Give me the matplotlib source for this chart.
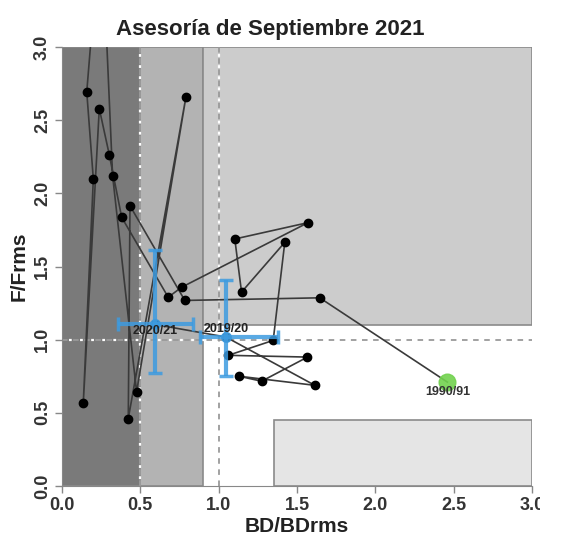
import matplotlib
matplotlib.use("Agg")
import matplotlib.pyplot as plt
from matplotlib.patches import Rectangle

plt.rcParams['font.family'] = ['Liberation Sans', 'DejaVu Sans']
plt.rcParams['lines.scale_dashes'] = False

# trajectory, first point = 1990/91, last two = 2019/20 and 2020/21
bdRatio = [2.46, 1.645, 0.784, 0.434, 0.423, 0.791, 0.476, 0.323, 0.25, 0.158,
           0.20, 0.136, 0.238, 0.302, 0.381, 0.678, 0.763, 1.571, 1.103, 1.146,
           1.422, 1.348, 1.061, 1.567, 1.274, 1.131, 1.614, 1.046, 0.593]
fRatio = [0.71, 1.286, 1.268, 1.915, 0.461, 2.658, 0.643, 2.12, 3.9, 2.693,
          2.097, 0.57, 2.579, 2.263, 1.836, 1.29, 1.358, 1.80, 1.688, 1.325,
          1.665, 0.995, 0.893, 0.881, 0.716, 0.75, 0.688, 1.018, 1.104]

# status estimates with intervals
statusLabels = ["2019/20", "2020/21"]
statusBD = [1.046, 0.593]
statusF = [1.018, 1.104]
statusBDlow, statusBDhigh = [0.88, 0.357], [1.378, 0.835]
statusFlow, statusFhigh = [0.75, 0.77], [1.41, 1.61]
firstLabel = "1990/91"

# reference zones (x0, x1, y0, y1, colour)
zones = [(0.0, 0.5, 0.0, 3.0, "#7a7a7a"),
         (0.5, 0.9, 0.0, 3.0, "#b3b3b3"),
         (0.9, 3.0, 1.1, 3.0, "#cccccc"),
         (1.35, 3.0, 0.0, 0.45, "#e5e5e5")]

ticks = [0.0, 0.5, 1.0, 1.5, 2.0, 2.5, 3.0]

fig = plt.figure(figsize=(5.68, 5.37), dpi=100)
ax = fig.add_axes([62/568, 51/537, 470/568, 439/537])

for x0, x1, y0, y1, col in zones:
    ax.add_patch(Rectangle((x0, y0), x1 - x0, y1 - y0, facecolor=col,
                           edgecolor="#8a8a8a", lw=1.2, zorder=1))

# reference lines: grey dashes with white dots in the gaps
for xv in [0.5, 1.0]:
    ax.axvline(xv, color="#9a9a9a", ls=(0, (4, 4)), lw=1.3, zorder=2)
    ax.axvline(xv, color="white", ls=(3, (2, 6)), lw=1.6, zorder=2)
ax.axhline(1.0, color="#9a9a9a", ls=(0, (4, 4)), lw=1.3, zorder=2)
ax.axhline(1.0, color="white", ls=(3, (2, 6)), lw=1.6, zorder=2)

ax.plot(bdRatio, fRatio, "-", color="#3a3a3a", lw=1.2, zorder=3)
ax.plot(bdRatio[1:], fRatio[1:], "o", color="black", ms=6, zorder=4)
ax.plot(bdRatio[0], fRatio[0], "o", color="#72d24f", ms=12, alpha=0.9, zorder=5)
ax.annotate(firstLabel, (bdRatio[0], fRatio[0]), xytext=(0, -7),
            textcoords="offset points", ha="center", va="center",
            fontsize=9, fontweight="bold", color="#333333", zorder=8)

for i in range(len(statusLabels)):
    xb, yb = statusBD[i], statusF[i]
    ax.errorbar(xb, yb,
                xerr=[[xb - statusBDlow[i]], [statusBDhigh[i] - xb]],
                yerr=[[yb - statusFlow[i]], [statusFhigh[i] - yb]],
                fmt="o", color="#3d9be0", ms=7, lw=3, capsize=5, capthick=2.5,
                alpha=0.85, zorder=6)
ax.annotate(statusLabels[0], (statusBD[0], statusF[0]), xytext=(0, 6),
            textcoords="offset points", ha="center", va="center",
            fontsize=9, fontweight="bold", color="#222222", zorder=8)
ax.annotate(statusLabels[1], (statusBD[1], statusF[1]), xytext=(0, -5),
            textcoords="offset points", ha="center", va="center",
            fontsize=9, fontweight="bold", color="#222222", zorder=8)

ax.set_xlim(0, 3)
ax.set_ylim(0, 3)
ax.set_xticks(ticks)
ax.set_yticks(ticks)
ax.set_xticklabels(["%.1f" % t for t in ticks])
ax.set_yticklabels(["%.1f" % t for t in ticks], rotation=90, va="center")
ax.tick_params(length=5, width=1, color="#888888", labelsize=13,
               labelcolor="#333333", pad=3)
for lab in ax.get_xticklabels() + ax.get_yticklabels():
    lab.set_fontweight("bold")
for side in ["top", "right"]:
    ax.spines[side].set_visible(False)
for side in ["left", "bottom"]:
    ax.spines[side].set_color("#888888")

ax.set_xlabel("BD/BDrms", fontsize=15, fontweight="bold", color="#222222", labelpad=2)
ax.set_ylabel("F/Frms", fontsize=15, fontweight="bold", color="#222222", labelpad=4)
fig.text(270/568, 1 - 29/537, "Asesoría de Septiembre 2021", ha="center",
         va="center", fontsize=16, fontweight="bold", color="#222222")

# the source image is cut on the right
fig.patches.append(Rectangle((540/568, 0), 28/568, 1, transform=fig.transFigure,
                             facecolor="white", edgecolor="none", zorder=20))

plt.savefig("out.png", dpi=100)
